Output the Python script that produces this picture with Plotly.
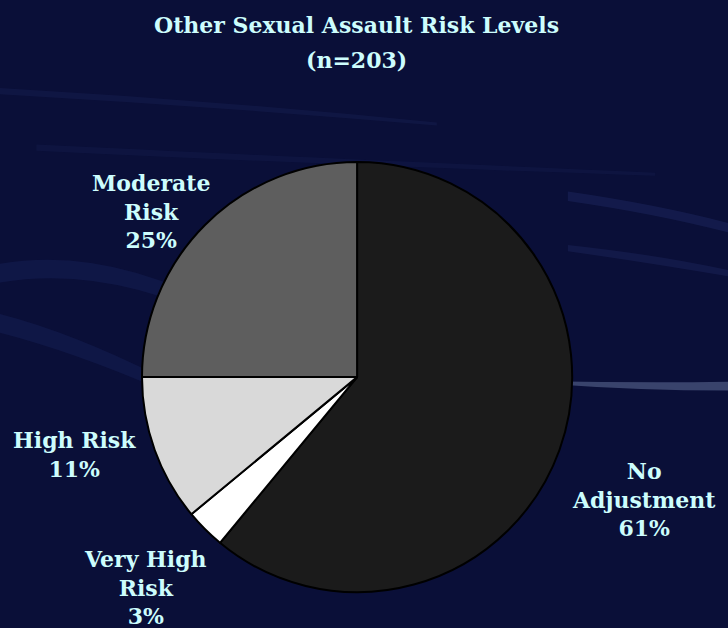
import plotly.graph_objects as go

categories = ["No Adjustment", "Very High Risk", "High Risk", "Moderate Risk"]
label_lines = ["No<br>Adjustment", "Very High<br>Risk", "High Risk", "Moderate<br>Risk"]
values = [61, 3, 11, 25]
slice_colors = ["#1b1b1b", "#ffffff", "#d9d9d9", "#5e5e5e"]
title_lines = ["Other Sexual Assault Risk Levels", "(n=203)"]

# label anchor positions (paper coords)
label_pos = [(0.885, 0.205), (0.20, 0.065), (0.102, 0.277), (0.208, 0.663)]
title_y = [0.960, 0.904]

txt_color = "#cdfdfd"
font_fam = "DejaVu Serif"
bg = "#0a0f38"

fig = go.Figure(go.Pie(
    labels=categories,
    values=values,
    sort=False,
    direction="clockwise",
    rotation=0,
    marker=dict(colors=slice_colors, line=dict(color="#000000", width=2)),
    textinfo="none",
    hoverinfo="label+percent",
    showlegend=False,
    domain=dict(x=[0.195, 0.786], y=[0.057, 0.742]),
))

annotations = []
for t, y in zip(title_lines, title_y):
    annotations.append(dict(text="<b>" + t + "</b>", x=0.49, y=y, xref="paper", yref="paper",
                            xanchor="center", yanchor="middle", showarrow=False,
                            font=dict(family=font_fam, size=22, color=txt_color)))
for lab, v, (x, y) in zip(label_lines, values, label_pos):
    annotations.append(dict(
        text="<b>" + lab + "<br>" + f"{v}%" + "</b>", x=x, y=y, xref="paper", yref="paper",
        xanchor="center", yanchor="middle", showarrow=False, align="center",
        font=dict(family=font_fam, size=22, color=txt_color)))

# faint background streaks (decoration)
streaks = [
    ("M 0 0.55 Q 0.15 0.58 0.32 0.48 L 0.32 0.50 Q 0.15 0.61 0 0.58 Z", "rgba(60,80,170,0.12)"),
    ("M 0 0.85 Q 0.3 0.83 0.6 0.80 L 0.6 0.805 Q 0.3 0.84 0 0.86 Z", "rgba(70,90,170,0.10)"),
    ("M 0.05 0.76 Q 0.4 0.74 0.9 0.72 L 0.9 0.725 Q 0.4 0.75 0.05 0.77 Z", "rgba(70,90,170,0.08)"),
    ("M 0.78 0.68 Q 0.9 0.66 1 0.63 L 1 0.645 Q 0.9 0.675 0.78 0.695 Z", "rgba(80,100,190,0.14)"),
    ("M 0.78 0.60 Q 0.9 0.58 1 0.56 L 1 0.57 Q 0.9 0.595 0.78 0.61 Z", "rgba(80,100,190,0.12)"),
    ("M 0.75 0.393 Q 0.88 0.39 1 0.392 L 1 0.378 Q 0.88 0.378 0.75 0.389 Z", "rgba(170,190,230,0.30)"),
    ("M 0 0.47 Q 0.1 0.44 0.22 0.38 L 0.22 0.40 Q 0.1 0.47 0 0.50 Z", "rgba(60,80,170,0.12)"),
]
shapes = [dict(type="path", path=p, xref="paper", yref="paper", fillcolor=c,
               line=dict(width=0), layer="below") for p, c in streaks]

fig.update_layout(
    width=728, height=628,
    margin=dict(l=0, r=0, t=0, b=0),
    paper_bgcolor=bg,
    plot_bgcolor=bg,
    annotations=annotations,
    shapes=shapes,
)

fig.write_html("out.html", config={"displayModeBar": False},
               post_script="document.body.style.margin='0';document.body.style.background='%s';" % bg)
